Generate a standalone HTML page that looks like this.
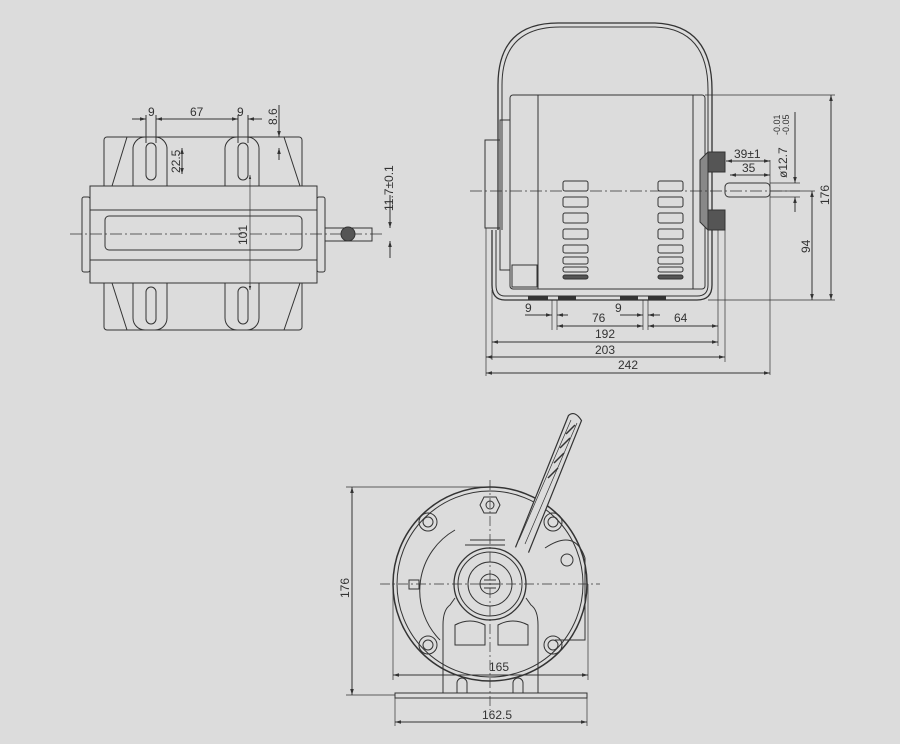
<!DOCTYPE html>
<html><head><meta charset="utf-8"><style>
html,body{margin:0;padding:0;background:#dcdcdc;}
svg{display:block;}
text{font-family:"Liberation Sans",sans-serif;font-size:12px;fill:#333;}
</style></head><body>
<svg width="900" height="744" viewBox="0 0 900 744" xmlns="http://www.w3.org/2000/svg">
<defs><marker id="a" viewBox="0 0 10 10" refX="10" refY="5" markerWidth="6" markerHeight="6" orient="auto-start-reverse"><path d="M0,2 L10,5 L0,8z" fill="#333"/></marker></defs>
<g fill="none" stroke="#333" stroke-width="1">
<!-- LEFT VIEW -->
<rect x="104" y="137" width="198" height="193" rx="3"/>
<rect x="90" y="186" width="227" height="97" fill="#dcdcdc"/>
<rect x="82" y="197" width="8" height="75" rx="2"/>
<rect x="317" y="197" width="8" height="75" rx="2"/>
<line x1="90" y1="210" x2="317" y2="210"/>
<line x1="90" y1="260" x2="317" y2="260"/>
<rect x="105" y="216" width="197" height="34" rx="4"/>
<line x1="70" y1="234" x2="385" y2="234" stroke-dasharray="12,3,2,3" stroke-width="0.7"/>
<rect x="325" y="228" width="47" height="13"/>
<circle cx="348" cy="234" r="7" fill="#555"/>
<path d="M127,137 L112,186 M284,137 L300,186 M127,330 L112,283 M284,330 L300,283"/>
<path d="M133,186 V150 a12,12 0 0 1 12,-13 h10 a12,12 0 0 1 12,13 V186" />
<path d="M225,186 V150 a12,12 0 0 1 12,-13 h10 a12,12 0 0 1 12,13 V186" />
<path d="M133,283 V318 a12,12 0 0 0 12,12 h10 a12,12 0 0 0 12,-12 V283" />
<path d="M225,283 V318 a12,12 0 0 0 12,12 h10 a12,12 0 0 0 12,-12 V283" />
<rect x="146" y="143" width="10" height="37" rx="5"/>
<rect x="238" y="143" width="10" height="37" rx="5"/>
<rect x="146" y="287" width="10" height="37" rx="5"/>
<rect x="238" y="287" width="10" height="37" rx="5"/>
<line x1="132" y1="119" x2="146" y2="119" marker-end="url(#a)"/>
<line x1="156" y1="119" x2="238" y2="119" marker-start="url(#a)" marker-end="url(#a)"/>
<line x1="248" y1="119" x2="262" y2="119" marker-start="url(#a)"/>
<line x1="146" y1="115" x2="146" y2="143"/><line x1="156" y1="115" x2="156" y2="143"/>
<line x1="238" y1="115" x2="238" y2="143"/><line x1="248" y1="115" x2="248" y2="143"/>
<line x1="279" y1="105" x2="279" y2="137" marker-end="url(#a)"/>
<line x1="279" y1="160" x2="279" y2="148" marker-end="url(#a)"/>
<line x1="182" y1="148" x2="182" y2="174" marker-start="url(#a)" marker-end="url(#a)"/>
<line x1="250" y1="175" x2="250" y2="290" marker-start="url(#a)" marker-end="url(#a)" stroke-width="0.7"/>
<line x1="390" y1="195" x2="390" y2="228" marker-end="url(#a)"/>
<line x1="390" y1="258" x2="390" y2="241" marker-end="url(#a)"/>
<!-- RIGHT VIEW -->
<path d="M498,230 V85 Q498,22 560,23 H655 Q712,25 712,90 V285 Q712,300 697,300 H505 Q492,300 492,285 V230" stroke-width="1.3"/>
<path d="M502,230 V85 Q502,27 560,27 H655 Q708,29 708,90 V285 Q708,296 697,296 H505 Q496,296 496,285 V230"/>
<rect x="510" y="95" width="195" height="194" rx="3"/>
<line x1="538" y1="95" x2="538" y2="289"/><line x1="693" y1="95" x2="693" y2="289"/>
<g>
<rect x="563" y="181" width="25" height="10" rx="2"/><rect x="563" y="197" width="25" height="10" rx="2"/><rect x="563" y="213" width="25" height="10" rx="2"/><rect x="563" y="229" width="25" height="10" rx="2"/><rect x="563" y="245" width="25" height="8" rx="2"/><rect x="563" y="257" width="25" height="7" rx="2"/><rect x="563" y="267" width="25" height="5" rx="2"/><rect x="563" y="275" width="25" height="4" rx="2" fill="#555"/>
<rect x="658" y="181" width="25" height="10" rx="2"/><rect x="658" y="197" width="25" height="10" rx="2"/><rect x="658" y="213" width="25" height="10" rx="2"/><rect x="658" y="229" width="25" height="10" rx="2"/><rect x="658" y="245" width="25" height="8" rx="2"/><rect x="658" y="257" width="25" height="7" rx="2"/><rect x="658" y="267" width="25" height="5" rx="2"/><rect x="658" y="275" width="25" height="4" rx="2" fill="#555"/>
</g>
<rect x="485" y="140" width="15" height="88"/>
<rect x="500" y="120" width="10" height="150"/>
<rect x="512" y="265" width="25" height="22"/>
<rect x="708" y="152" width="17" height="20" fill="#555"/>
<rect x="708" y="210" width="17" height="20" fill="#555"/>
<path d="M700,160 L708,152 V230 L700,222 Z" fill="#888"/>
<rect x="725" y="183" width="45" height="14" rx="4"/>
<line x1="470" y1="191" x2="800" y2="191" stroke-dasharray="12,3,2,3" stroke-width="0.7"/>
<line x1="705" y1="95" x2="835" y2="95" stroke-width="0.7"/>
<line x1="708" y1="300" x2="835" y2="300" stroke-width="0.7"/>
<line x1="831" y1="95" x2="831" y2="300" marker-start="url(#a)" marker-end="url(#a)"/>
<line x1="770" y1="191" x2="815" y2="191" stroke-width="0.7"/>
<line x1="812" y1="191" x2="812" y2="300" marker-start="url(#a)" marker-end="url(#a)"/>
<line x1="795" y1="112" x2="795" y2="183" marker-end="url(#a)"/>
<line x1="795" y1="212" x2="795" y2="197" marker-end="url(#a)"/>
<line x1="770" y1="183" x2="800" y2="183" stroke-width="0.7"/><line x1="770" y1="197" x2="800" y2="197" stroke-width="0.7"/>
<line x1="726" y1="161" x2="770" y2="161" marker-start="url(#a)" marker-end="url(#a)"/>
<line x1="730" y1="175" x2="770" y2="175" marker-start="url(#a)" marker-end="url(#a)"/>
<line x1="770" y1="160" x2="770" y2="375" stroke-width="0.7"/>
<line x1="486" y1="228" x2="486" y2="376" stroke-width="0.7"/>
<line x1="492" y1="290" x2="492" y2="360" stroke-width="0.7"/>
<line x1="718" y1="230" x2="718" y2="346" stroke-width="0.7"/>
<line x1="725" y1="230" x2="725" y2="362" stroke-width="0.7"/>
<line x1="552" y1="300" x2="552" y2="330" stroke-width="0.7"/><line x1="557" y1="300" x2="557" y2="330" stroke-width="0.7"/>
<line x1="643" y1="300" x2="643" y2="330" stroke-width="0.7"/><line x1="648" y1="300" x2="648" y2="330" stroke-width="0.7"/>
<path d="M528,298 h20 M558,298 h18 M620,298 h18 M648,298 h18" stroke-width="3"/>
<line x1="525" y1="315" x2="552" y2="315" marker-end="url(#a)"/>
<line x1="568" y1="315" x2="557" y2="315" marker-end="url(#a)"/>
<line x1="620" y1="315" x2="643" y2="315" marker-end="url(#a)"/>
<line x1="660" y1="315" x2="648" y2="315" marker-end="url(#a)"/>
<line x1="557" y1="326" x2="643" y2="326" marker-start="url(#a)" marker-end="url(#a)"/>
<line x1="648" y1="326" x2="718" y2="326" marker-start="url(#a)" marker-end="url(#a)"/>
<line x1="492" y1="342" x2="718" y2="342" marker-start="url(#a)" marker-end="url(#a)"/>
<line x1="486" y1="357" x2="725" y2="357" marker-start="url(#a)" marker-end="url(#a)"/>
<line x1="486" y1="373" x2="770" y2="373" marker-start="url(#a)" marker-end="url(#a)"/>
<!-- FRONT VIEW -->
<circle cx="490" cy="584" r="97" stroke-width="1.5"/>
<circle cx="490" cy="584" r="93"/>
<path d="M455,530 A70,70 0 0 0 440,640" />
<circle cx="490" cy="584" r="36" stroke-width="1.3"/>
<circle cx="490" cy="584" r="32"/>
<circle cx="490" cy="584" r="22"/>
<circle cx="490" cy="584" r="10"/>
<path d="M480,584 h20 M484,580 h12 M484,588 h12"/>
<path d="M443,693 V625 Q443,610 450,605 L455,598 M538,693 V625 Q538,610 531,605 L526,598"/>
<path d="M455,625 q15,-8 30,0 V645 h-30 Z M498,625 q15,-8 30,0 V645 h-30 Z"/>
<rect x="395" y="693" width="192" height="5"/>
<path d="M457,693 v-10 a5,5 0 0 1 10,0 v10 M513,693 v-10 a5,5 0 0 1 10,0 v10"/>
<circle cx="428" cy="522" r="9"/><circle cx="428" cy="522" r="5"/>
<circle cx="553" cy="522" r="9"/><circle cx="553" cy="522" r="5"/>
<circle cx="428" cy="645" r="9"/><circle cx="428" cy="645" r="5"/>
<circle cx="553" cy="645" r="9"/><circle cx="553" cy="645" r="5"/>
<polygon points="484,497 496,497 500,505 496,513 484,513 480,505"/><circle cx="490" cy="505" r="4"/>
<path d="M515.5,547.4 L568.5,415.4 Q575,410 581.5,420.6 L528.5,552.6" fill="#dcdcdc" stroke-width="1.2"/>
<path d="M519,540 L571,420 M525,544 L577,423" stroke-width="0.7"/>
<path d="M548,478 l10,-10 M554,463 l10,-10 M560,448 l10,-10 M566,434 l9,-9" stroke-width="1.5"/>
<path d="M470,540 h35 M465,545 h40" />
<path d="M545,548 q30,-20 40,10 V640 h-30"/>
<circle cx="567" cy="560" r="6"/>
<rect x="409" y="580" width="10" height="9"/>
<line x1="380" y1="584" x2="600" y2="584" stroke-dasharray="10,3,2,3" stroke-width="0.7"/>
<line x1="490" y1="480" x2="490" y2="710" stroke-dasharray="10,3,2,3" stroke-width="0.7"/>
<line x1="346" y1="487" x2="490" y2="487" stroke-width="0.7"/>
<line x1="346" y1="695" x2="395" y2="695" stroke-width="0.7"/>
<line x1="352" y1="487" x2="352" y2="695" marker-start="url(#a)" marker-end="url(#a)"/>
<line x1="393" y1="584" x2="393" y2="680" stroke-width="0.7"/><line x1="588" y1="584" x2="588" y2="680" stroke-width="0.7"/>
<line x1="393" y1="675" x2="588" y2="675" marker-start="url(#a)" marker-end="url(#a)"/>
<line x1="395" y1="698" x2="395" y2="726" stroke-width="0.7"/><line x1="587" y1="698" x2="587" y2="726" stroke-width="0.7"/>
<line x1="395" y1="722" x2="587" y2="722" marker-start="url(#a)" marker-end="url(#a)"/>
</g>
<!-- labels -->
<text x="148" y="116">9</text>
<text x="190" y="116">67</text>
<text x="237" y="116">9</text>
<text transform="translate(277,125) rotate(-90)">8.6</text>
<text transform="translate(180,173) rotate(-90)">22.5</text>
<text transform="translate(247,245) rotate(-90)">101</text>
<text transform="translate(393,211) rotate(-90)">11.7±0.1</text>
<text x="734" y="158">39±1</text>
<text x="742" y="172">35</text>
<text transform="translate(787,178) rotate(-90)">ø12.7</text>
<text transform="translate(780,135) rotate(-90)" style="font-size:9px">-0.01</text>
<text transform="translate(789,135) rotate(-90)" style="font-size:9px">-0.05</text>
<text transform="translate(829,205) rotate(-90)">176</text>
<text transform="translate(810,253) rotate(-90)">94</text>
<text x="525" y="312">9</text>
<text x="615" y="312">9</text>
<text x="592" y="322">76</text>
<text x="674" y="322">64</text>
<text x="595" y="338">192</text>
<text x="595" y="354">203</text>
<text x="618" y="369">242</text>
<text transform="translate(349,598) rotate(-90)">176</text>
<text x="489" y="671">165</text>
<text x="482" y="719">162.5</text>
</svg>
</body></html>
